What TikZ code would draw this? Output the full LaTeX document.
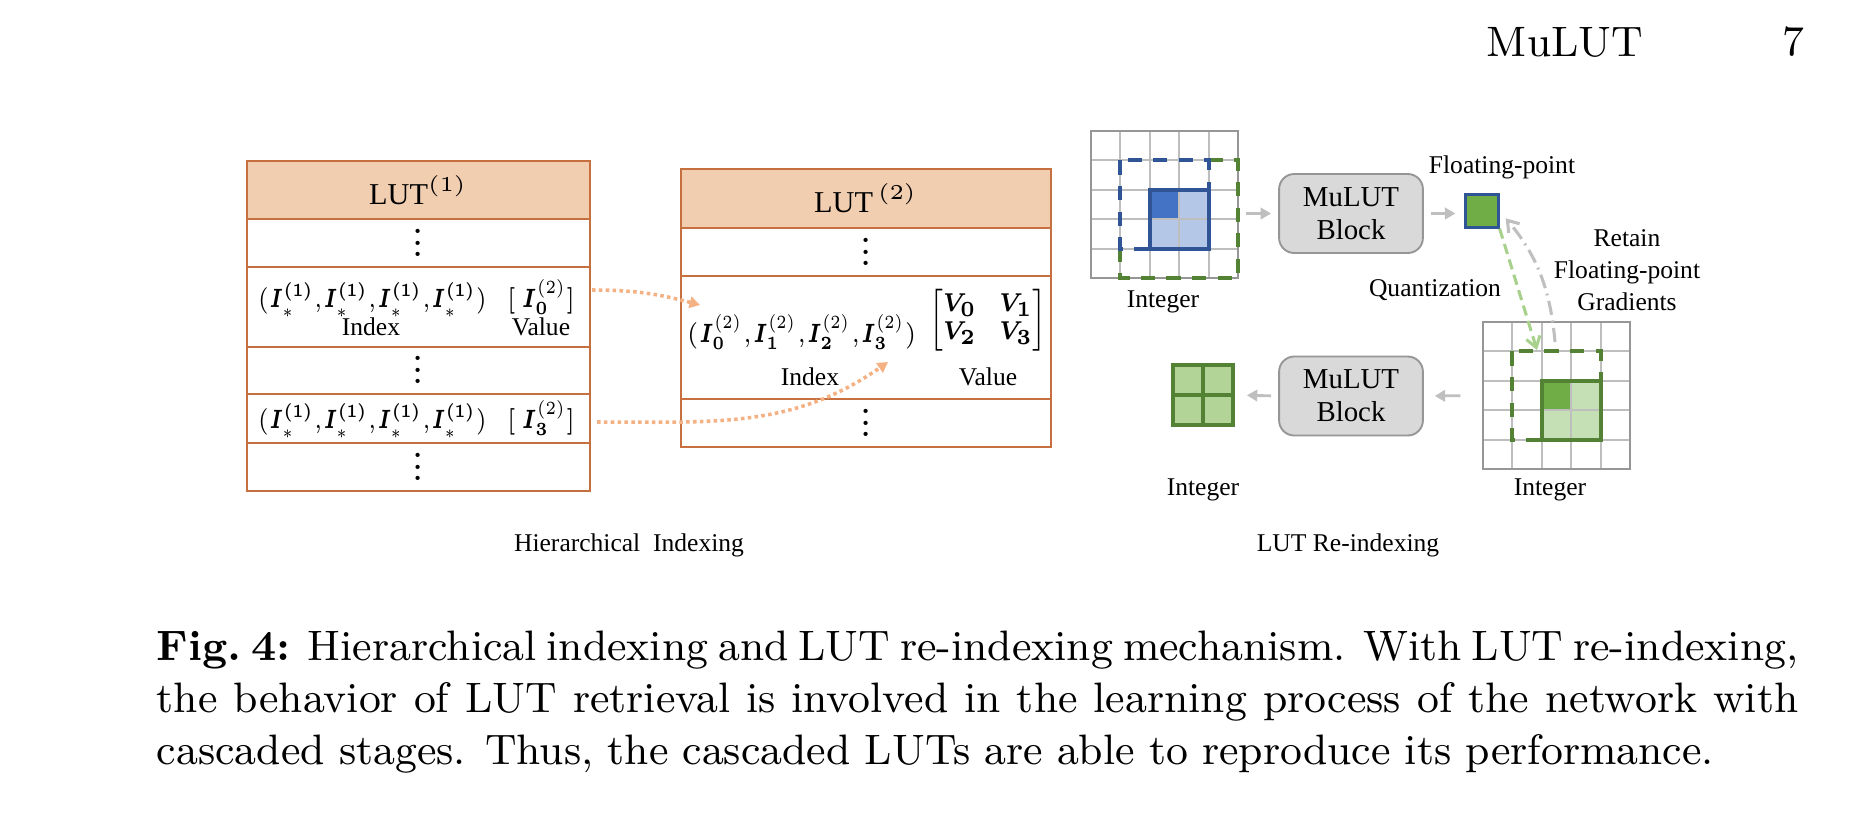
\RequirePackage{fix-cm}
\documentclass[tikz,border=0pt]{standalone}
\usepackage{fontspec}
\usepackage{amsmath,bm,graphicx}
\usetikzlibrary{arrows.meta,calc}
\newfontfamily\tnr{Liberation Serif}
\definecolor{lutline}{RGB}{197,112,62}
\definecolor{lutfill}{RGB}{242,206,177}
\definecolor{dotorange}{RGB}{244,177,131}
\definecolor{gridgray}{RGB}{190,190,190}
\definecolor{framegray}{RGB}{150,150,150}
\definecolor{blueline}{RGB}{47,85,151}
\definecolor{bluedark}{RGB}{68,114,196}
\definecolor{bluelight}{RGB}{180,199,231}
\definecolor{greenline}{RGB}{84,130,53}
\definecolor{greendark}{RGB}{112,173,71}
\definecolor{greenlight}{RGB}{197,224,180}
\definecolor{greenmid}{RGB}{169,209,142}
\definecolor{outfill}{RGB}{178,212,150}
\definecolor{blockfill}{RGB}{217,217,217}
\definecolor{blockline}{RGB}{150,150,150}
\definecolor{arrowgray}{RGB}{191,191,191}
\newcommand{\Istar}{\bm{I}_{*}^{\bm{(1)}}}
\newcommand{\vdts}{\vbox{\baselineskip=2.4pt \lineskiplimit=0pt \hbox{.}\hbox{.}\hbox{.}}}
\tikzset{runhead/.style={font=\small, inner sep=0pt}}
\tikzset{lab/.style={font=\tnr\fontsize{5.4}{6.8}\selectfont, inner sep=0pt}}
\tikzset{ent/.style={font=\fontsize{5.6}{6.4}\selectfont, inner sep=0pt}}
\tikzset{vd/.style={font=\fontsize{8}{9}\selectfont, inner sep=0pt}}
\tikzset{luthd/.style={font=\tnr\fontsize{6.4}{7.5}\selectfont, inner sep=0pt}}
\tikzset{lutframe/.style={draw=lutline, line width=0.45pt}}
\tikzset{gline/.style={draw=gridgray, line width=0.42pt}}
\tikzset{area/.style={rectangle, minimum size=31.08pt, inner sep=0pt}}
\tikzset{block/.style={rectangle, rounded corners=3.2pt, draw=blockline, fill=blockfill, line width=0.4pt, minimum width=30.4pt, minimum height=16.7pt, align=center, inner sep=0pt, font=\tnr\fontsize{6.1}{7}\selectfont}}
\tikzset{fpsq/.style={rectangle, minimum size=6.8pt, inner sep=0pt, fill=greendark, draw=blueline, line width=0.65pt}}
\tikzset{outsq/.style={rectangle, minimum size=12.7pt, inner sep=0pt, fill=outfill, draw=greenline, line width=0.85pt}}
\tikzset{bsel/.style={draw=blueline, line width=0.85pt}}
\tikzset{bdash/.style={bsel, dash pattern=on 3pt off 2.4pt}}
\tikzset{gsel/.style={draw=greenline, line width=0.85pt}}
\tikzset{gdash/.style={gsel, dash pattern=on 3pt off 2.4pt}}
\tikzset{garrow/.style={draw=arrowgray, line width=0.6pt, -{Triangle[length=2.2pt,width=2.4pt]}}}
\tikzset{oarrow/.style={draw=dotorange, line width=0.75pt, dash pattern=on 0.75pt off 0.7pt, -{Triangle[length=2.2pt,width=2.4pt]}}}
\tikzset{qarrow/.style={draw=greenmid, line width=0.65pt, dash pattern=on 2.2pt off 1.2pt, -{Straight Barb[length=2.2pt,width=3pt]}}}
\tikzset{rarrow/.style={draw=arrowgray, line width=0.65pt, dash pattern=on 3pt off 1.2pt on 0.4pt off 1.2pt, -{Straight Barb[length=2.2pt,width=3pt]}}}

\begin{document}
\begin{tikzpicture}[x=0.2114pt, y=-0.2114pt]
\useasboundingbox (0,0) rectangle (1864,820);

\node (rh) at (1565,42) [runhead] {MuLUT};
\node (pg) at (1793,42) [runhead] {7};

% first table
\filldraw[lutframe, fill=lutfill] (247,161) rectangle (590,219);
\draw[lutframe] (247,219) rectangle (590,491);
\foreach \y in {267,347,394,443} \draw[lutframe] (247,\y) -- (590,\y);
\node (h1) at (418.5,190) [luthd] {LUT$^{(1)}$};
\node (d11) at (418.5,243) [vd] {\vdts};
\node (k11) at (257,307) [ent, anchor=base west] {\scalebox{0.77}[1]{$(\Istar{,}\Istar{,}\Istar{,}\Istar)$}};
\node (v11) at (541,307) [ent, anchor=base] {\scalebox{0.83}[1]{$[\,\bm{I}_{\bm 0}^{(2)}]$}};
\node (x11) at (371,335) [lab, anchor=base] {Index};
\node (y11) at (541,335) [lab, anchor=base] {Value};
\node (d12) at (418.5,370) [vd] {\vdts};
\node (k12) at (257,428) [ent, anchor=base west] {\scalebox{0.77}[1]{$(\Istar{,}\Istar{,}\Istar{,}\Istar)$}};
\node (v12) at (541,428) [ent, anchor=base] {\scalebox{0.83}[1]{$[\,\bm{I}_{\bm 3}^{(2)}]$}};
\node (d13) at (418.5,467) [vd] {\vdts};

% second table
\filldraw[lutframe, fill=lutfill] (681,169) rectangle (1051,228);
\draw[lutframe] (681,228) rectangle (1051,447);
\foreach \y in {276,399} \draw[lutframe] (681,\y) -- (1051,\y);
\node (h2) at (866,198.5) [luthd] {LUT\,$^{(2)}$};
\node (d21) at (866,252) [vd] {\vdts};
\node (k2) at (686,342) [ent, anchor=base west] {\scalebox{0.81}[1]{$(\bm{I}_{\bm 0}^{(2)}{,}\bm{I}_{\bm 1}^{(2)}{,}\bm{I}_{\bm 2}^{(2)}{,}\bm{I}_{\bm 3}^{(2)})$}};
\node (m2) at (988,320) [ent, font=\fontsize{6}{6.4}\selectfont] {\scalebox{0.8}[0.91]{\arraycolsep=3pt$\begin{bmatrix}\bm{V}_{\bm 0} & \bm{V}_{\bm 1}\\ \bm{V}_{\bm 2} & \bm{V}_{\bm 3}\end{bmatrix}$}};
\node (x2) at (810,385) [lab, anchor=base] {Index};
\node (y2) at (988,385) [lab, anchor=base] {Value};
\node (d22) at (866,423) [vd] {\vdts};

\coordinate (o1) at (592,290);
\coordinate (e1) at (700,305);
\coordinate (o2) at (597,422);
\coordinate (e2) at (888,362);
\draw[oarrow] (o1) to[out=0,in=165] (e1);
\draw[oarrow] (o2) to[out=0,in=-145] (e2);

% first grid
\fill[bluelight] (1149.8,190.2) rectangle (1208.6,249);
\fill[bluedark] (1149.8,190.2) rectangle (1179.2,219.6);
\foreach \i in {0,...,5} {
  \draw[gline] (1091+\i*29.4,131) -- (1091+\i*29.4,278);
  \draw[gline] (1091,131+\i*29.4) -- (1238,131+\i*29.4);
}
\draw[gline, draw=framegray] (1091,131) rectangle (1238,278);
\draw[gdash] (1208.6,160.4) -- (1238,160.4) -- (1238,278) -- (1120.4,278) -- (1120.4,249);
\draw[bdash] (1120.4,160.4) rectangle (1208.6,249);
\draw[bsel] (1149.8,190.2) rectangle (1208.6,249);
\node (g1) at (1164.5,204.5) [area] {};

% second grid
\fill[greenlight] (1541.8,380.8) rectangle (1600.6,439.6);
\fill[greendark] (1541.8,380.8) rectangle (1571.2,410.2);
\foreach \i in {0,...,5} {
  \draw[gline] (1483+\i*29.4,322) -- (1483+\i*29.4,469);
  \draw[gline] (1483,322+\i*29.4) -- (1630,322+\i*29.4);
}
\draw[gline, draw=framegray] (1483,322) rectangle (1630,469);
\draw[gdash] (1512.4,351.4) rectangle (1600.6,439.6);
\draw[gsel] (1541.8,380.8) rectangle (1600.6,439.6);
\node (g2) at (1556.5,395.5) [area] {};

\node (b1) at (1351,213.5) [block] {MuLUT\\Block};
\node (b2) at (1351,396) [block] {MuLUT\\Block};
\node (fp) at (1482,211) [fpsq] {};
\node (out) at (1203,395) [outsq] {};
\draw[greenline, line width=0.85pt] (out.north) -- (out.south) (out.west) -- (out.east);

\draw[garrow, shorten <=1.5pt, shorten >=1.5pt] (g1.east |- b1) -- (b1.west);
\draw[garrow, shorten <=1.5pt, shorten >=1.9pt] (b1.east) -- (fp.west |- b1.east);
\draw[garrow, shorten <=4.6pt, shorten >=2.3pt] (g2.west) -- (b2.east);
\draw[garrow, shorten <=1.5pt, shorten >=2.5pt] (b2.west) -- (out.east);

\coordinate (qend) at (1537,350);
\coordinate (rstart) at (1555,342);
\draw[qarrow] (fp.south east) -- (qend);
\draw[rarrow, shorten >=2pt] (rstart) to[out=95,in=-50] (fp.east);

\node (i1) at (1163,302) [lab] {Integer};
\node (i2) at (1203,490) [lab] {Integer};
\node (i3) at (1550,490) [lab] {Integer};
\node (fl) at (1502,167) [lab] {Floating-point};
\node (qz) at (1435,290) [lab] {Quantization};
\node (rt) at (1627,270) [lab, align=center] {Retain\\Floating-point\\Gradients};

\node (hi) at (629,545) [lab] {Hierarchical\ \ Indexing};
\node (ri) at (1348,545) [lab] {LUT Re-indexing};

\node (cap) at (156,630) [anchor=north west, text width=347pt, align=justify, inner sep=0pt, font=\small] {\spaceskip=3pt plus 1.6pt minus 1.5pt \textbf{Fig.\ 4:} Hierarchical indexing and LUT re-indexing mechanism. With LUT re-indexing,\linebreak the behavior of LUT retrieval is involved in the learning process of the network with\linebreak cascaded stages. Thus, the cascaded LUTs are able to reproduce its performance.};
\end{tikzpicture}
\end{document}
